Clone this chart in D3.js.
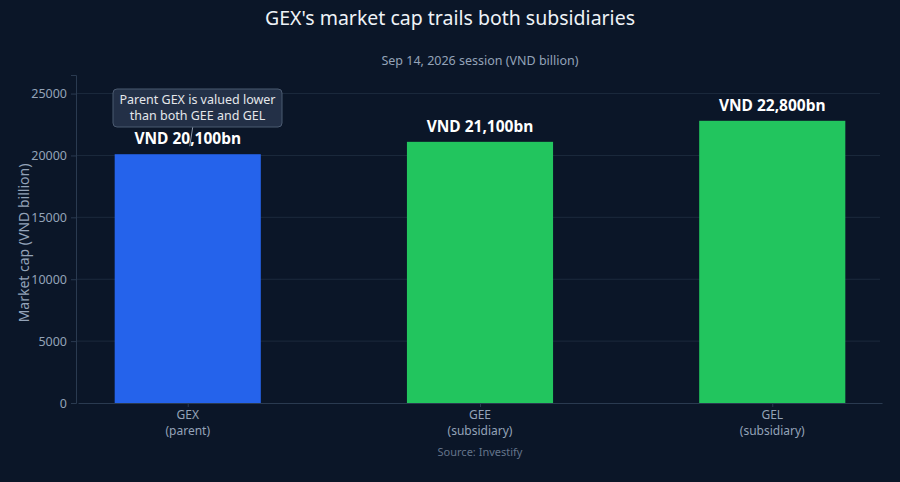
<!DOCTYPE html>
<html>
<head>
<meta charset="utf-8">
<script src="https://cdn.jsdelivr.net/npm/d3@7"></script>
<style>
  body { margin: 0; background: #0b1628; }
  svg { display: block; font-family: "Noto Sans", "Open Sans", sans-serif; }
</style>
</head>
<body>
<div id="chart"></div>
<script>
const categories = ["GEX", "GEE", "GEL"];
const roles = ["(parent)", "(subsidiary)", "(subsidiary)"];
const values = [20100, 21100, 22800];
const valueLabels = ["VND 20,100bn", "VND 21,100bn", "VND 22,800bn"];
const barColors = ["#2563eb", "#22c55e", "#22c55e"];
const yTicks = [0, 5000, 10000, 15000, 20000, 25000];

const W = 900, H = 482;
const m = {top: 75, right: 20, bottom: 79, left: 76};

const svg = d3.select("#chart").append("svg")
    .attr("width", W)
    .attr("height", H);

svg.append("rect").attr("width", W).attr("height", H).attr("fill", "#0b1628");

const x = d3.scalePoint()
    .domain(categories)
    .range([m.left + 2, W - m.right + 2])
    .padding(0.3755);
const barW = x.step() * 0.5;

const y = d3.scaleLinear()
    .domain([0, 26500])
    .range([H - m.bottom, m.top]);

// gridlines
svg.append("g")
    .selectAll("line")
    .data(yTicks.filter(d => d > 0))
    .enter().append("line")
    .attr("x1", m.left).attr("x2", W - m.right)
    .attr("y1", d => y(d)).attr("y2", d => y(d))
    .attr("stroke", "#1c2a3d").attr("stroke-width", 1);

// y axis
const yAxis = svg.append("g")
    .attr("transform", `translate(${m.left},0)`)
    .call(d3.axisLeft(y).tickValues(yTicks).tickFormat(d3.format("d")).tickSizeOuter(0).tickSize(5));
yAxis.select(".domain").attr("stroke", "#2a3a50");
yAxis.selectAll(".tick line").attr("stroke", "#2a3a50");
yAxis.selectAll(".tick text").attr("fill", "#94a3b8").attr("font-size", 12.5)
    .attr("font-family", "'Noto Sans', sans-serif").attr("dx", -1);

// bars
svg.append("g")
    .selectAll("rect")
    .data(values)
    .enter().append("rect")
    .attr("x", (d, i) => x(categories[i]) - barW / 2)
    .attr("width", barW)
    .attr("y", d => y(d))
    .attr("height", d => y(0) - y(d))
    .attr("fill", (d, i) => barColors[i]);

// x axis
const xAxis = svg.append("g")
    .attr("transform", `translate(0,${y(0)})`)
    .call(d3.axisBottom(x).tickSize(4).tickSizeOuter(0).tickFormat(""));
xAxis.select(".domain").attr("stroke", "#2a3a50");
xAxis.selectAll(".tick line").attr("stroke", "#2a3a50");

svg.append("g")
    .selectAll("text")
    .data(categories)
    .enter().append("text")
    .attr("x", d => x(d))
    .attr("y", y(0) + 15.5)
    .attr("text-anchor", "middle")
    .attr("fill", "#94a3b8")
    .attr("font-size", 12)
    .text(d => d);

svg.append("g")
    .selectAll("text")
    .data(roles)
    .enter().append("text")
    .attr("x", (d, i) => x(categories[i]))
    .attr("y", y(0) + 32)
    .attr("text-anchor", "middle")
    .attr("fill", "#94a3b8")
    .attr("font-size", 12)
    .text(d => d);

// value labels
svg.append("g")
    .selectAll("text")
    .data(values)
    .enter().append("text")
    .attr("x", (d, i) => x(categories[i]))
    .attr("y", d => y(d) - 10)
    .attr("text-anchor", "middle")
    .attr("fill", "#ffffff")
    .attr("font-size", 15.5)
    .attr("font-weight", "bold")
    .text((d, i) => valueLabels[i]);

// annotation
const ax = x("GEX") + 2, ay = y(values[0]) - 8;
svg.append("line")
    .attr("x1", ax + 3).attr("y1", 127)
    .attr("x2", ax).attr("y2", ay)
    .attr("stroke", "#8a96a8").attr("stroke-width", 1);
svg.append("rect")
    .attr("x", 113).attr("y", 89).attr("width", 169).attr("height", 38).attr("rx", 4)
    .attr("fill", "#26334a").attr("fill-opacity", 0.9)
    .attr("stroke", "#4b5a70").attr("stroke-width", 1);
svg.append("text")
    .attr("x", 197.5).attr("y", 104)
    .attr("text-anchor", "middle")
    .attr("fill", "#e5e7eb")
    .attr("font-size", 12.5)
    .text("Parent GEX is valued lower");
svg.append("text")
    .attr("x", 197.5).attr("y", 120)
    .attr("text-anchor", "middle")
    .attr("fill", "#e5e7eb")
    .attr("font-size", 12.5)
    .text("than both GEE and GEL");

// titles
svg.append("text")
    .attr("x", W / 2).attr("y", 25)
    .attr("text-anchor", "middle")
    .attr("fill", "#eef2f7")
    .attr("font-size", 19.5)
    .text("GEX's market cap trails both subsidiaries");

svg.append("text")
    .attr("x", (m.left + W - m.right) / 2 + 2).attr("y", 65)
    .attr("text-anchor", "middle")
    .attr("fill", "#94a3b8")
    .attr("font-size", 12.5)
    .text("Sep 14, 2026 session (VND billion)");

svg.append("text")
    .attr("transform", `translate(29,${(m.top + y(0)) / 2 + 4}) rotate(-90)`)
    .attr("text-anchor", "middle")
    .attr("fill", "#94a3b8")
    .attr("font-size", 14)
    .text("Market cap (VND billion)");

svg.append("text")
    .attr("x", (m.left + W - m.right) / 2 + 2).attr("y", 456)
    .attr("text-anchor", "middle")
    .attr("fill", "#64748b")
    .attr("font-size", 11)
    .text("Source: Investify");
</script>
</body>
</html>
